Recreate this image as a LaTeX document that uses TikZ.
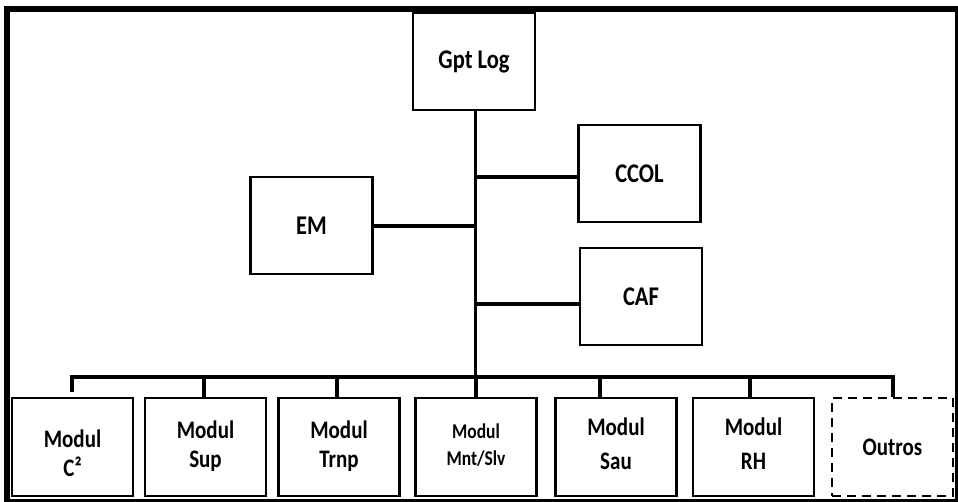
\documentclass[tikz,border=0pt]{standalone}
\usepackage{fontspec}
\setmainfont{Carlito}
\usepackage{graphicx}
\newcommand{\tall}[1]{\scalebox{1}[1.2]{#1}}
\newcommand{\twol}[3][0pt]{\begin{tabular}{@{}c@{}}#2\\[#1]#3\end{tabular}}
\begin{document}
\begin{tikzpicture}[x=1pt,y=-1pt,
  box/.style={draw, line width=2.4pt, minimum width=122pt, minimum height=97pt, inner sep=0pt, align=center},
  lowbox/.style={box, minimum width=121pt, minimum height=98pt},
  dbox/.style={lowbox, dash pattern=on 9pt off 6pt, line width=2.6pt},
  wire/.style={line width=3.2pt, line join=miter},
  topfont/.style={font=\fontsize{22.5}{26}\selectfont\bfseries},
  botfont/.style={font=\fontsize{21}{24}\selectfont\bfseries},
  smallfont/.style={font=\fontsize{17.5}{20.5}\selectfont\bfseries}]
\useasboundingbox (0,0) rectangle (958,502);
\draw[line width=6pt] (7,9) rectangle (958,502);

% upper boxes
\node[box, topfont] (gpt) at (474,61.5) {\tall{Gpt Log}};
\node[box, topfont] (ccol) at (639.5,173.5) {\tall{CCOL}};
\node[box, topfont] (em) at (311.5,225.5) {\tall{EM}};
\node[box, topfont] (caf) at (641,296.5) {\tall{CAF}};

% lower boxes
\node[lowbox] (b1) at (72.5,447) {};
\node[botfont] (t1) at ([yshift=-9.5pt]b1.center) {\tall{\twol{Modul}{C²}}};
\node[lowbox, botfont] (b2) at (205.5,447) {\tall{\twol{Modul}{Sup}}};
\node[lowbox, botfont] (b3) at (339,447) {\tall{\twol{Modul}{Trnp}}};
\node[lowbox, smallfont] (b4) at (476,447) {\tall{\twol[2pt]{Modul}{Mnt/Slv}}};
\node[lowbox, botfont] (b5) at (616,447) {\tall{\twol[4pt]{Modul}{Sau}}};
\node[lowbox, botfont] (b6) at (753.5,447) {\tall{\twol[4pt]{Modul}{RH}}};
\node[dbox, botfont] (b7) at (892.5,447) {\tall{Outros}};

% trunk
\coordinate (bus) at (475.5,377);
\draw[wire] (gpt.south -| bus) -- (bus);
\coordinate (jc) at (475.5,177);
\draw[wire] (jc) -- (jc -| ccol.west);
\coordinate (je) at (475.5,226);
\draw[wire] (em.east |- je) -- (je);
\coordinate (jf) at (475.5,304);
\draw[wire] (jf) -- (jf -| caf.west);

% bus and stubs
\coordinate (s1) at (72,377);
\coordinate (s2) at (204,377);
\coordinate (s3) at (337,377);
\coordinate (s4) at (476,377);
\coordinate (s5) at (600,377);
\coordinate (s6) at (750,377);
\coordinate (s7) at (893,377);
\draw[wire] ([yshift=5pt]s1 |- b1.north) -- (s1) -- (s7) -- (s7 |- b7.north);
\draw[wire] (s2) -- (s2 |- b2.north);
\draw[wire] (s3) -- (s3 |- b3.north);
\draw[wire] (s4) -- (s4 |- b4.north);
\draw[wire] (s5) -- (s5 |- b5.north);
\draw[wire] (s6) -- (s6 |- b6.north);
\end{tikzpicture}
\end{document}
